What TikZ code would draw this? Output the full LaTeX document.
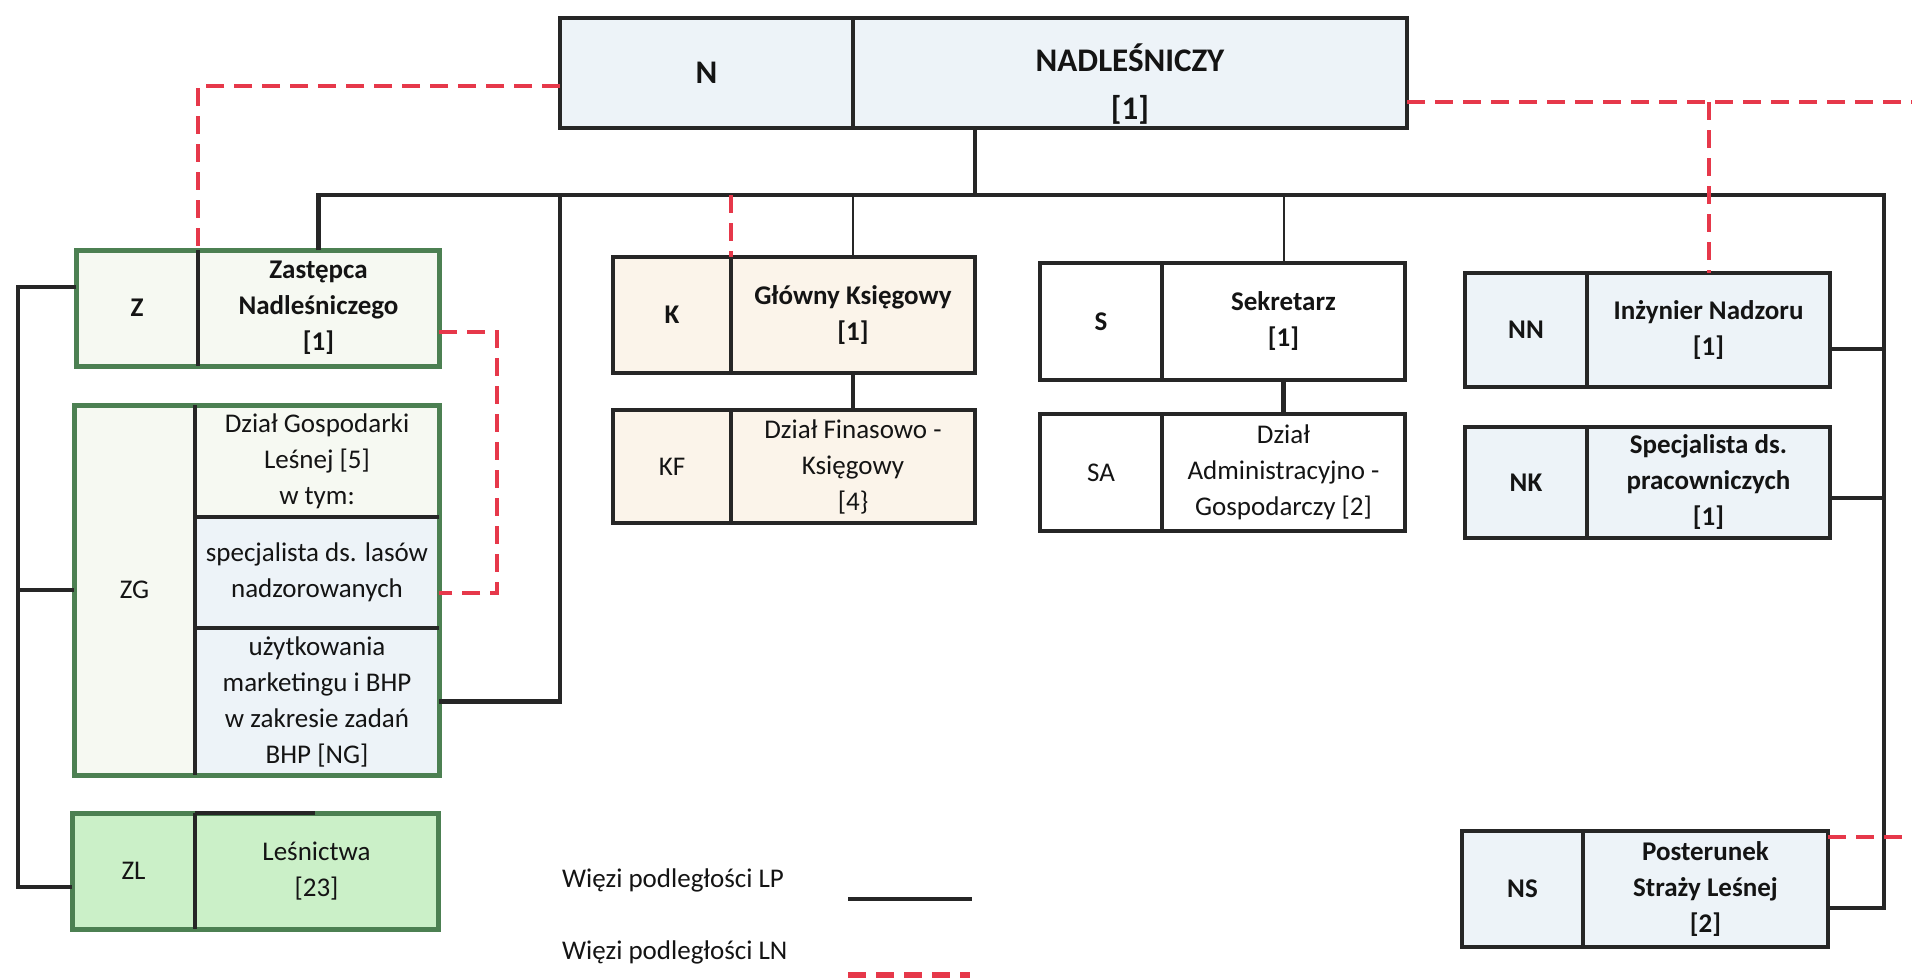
\documentclass[tikz,border=0pt]{standalone}
\usepackage{fontspec}
\setmainfont{Carlito}
\definecolor{ink}{RGB}{38,38,38}
\definecolor{txt}{RGB}{20,20,20}
\definecolor{blu}{RGB}{237,243,248}
\definecolor{bei}{RGB}{251,244,234}
\definecolor{zf}{RGB}{246,249,242}
\definecolor{zl}{RGB}{203,240,200}
\definecolor{grn}{RGB}{76,128,82}
\definecolor{rd}{RGB}{230,56,74}
\begin{document}
\begin{tikzpicture}[x=1pt,y=-1pt,
  cell/.style={inner sep=0pt, outer sep=0pt, anchor=north west, align=center, text=txt, font=\fontsize{27}{36}\selectfont},
  bcell/.style={cell, font=\fontsize{27}{36}\selectfont\bfseries},
  ncell/.style={cell, font=\fontsize{33}{48}\selectfont\bfseries},
  frame/.style={draw=ink, line width=4.5pt},
  gframe/.style={draw=grn, line width=5pt},
  div/.style={draw=ink, line width=4pt},
  lp/.style={draw=ink, line width=4.5pt},
  lpthin/.style={draw=ink, line width=2pt},
  ln/.style={draw=rd, line width=4pt, dash pattern=on 18pt off 10pt},
  legtext/.style={anchor=west, inner sep=0pt, text=txt, font=\fontsize{27}{36}\selectfont}
]
\useasboundingbox[fill=white] (0,0) rectangle (1912,978);

% ---------- N ----------
\node[ncell, fill=blu, minimum width=293pt, minimum height=110pt] (Na) at (560,18) {N};
\node[cell, fill=blu, minimum width=554pt, minimum height=110pt] (Nb) at (853,18) {};
\node[inner sep=0pt, align=center, text=txt, font=\fontsize{33}{48}\selectfont\bfseries] (Nt) at (1130,84) {NADLEŚNICZY\\{[1]}};
\draw[frame] (Na.north west) rectangle (Nb.south east);
\draw[div] (Na.north east) -- (Na.south east);

% ---------- Z ----------
\node[bcell, fill=zf, minimum width=122pt, minimum height=116pt] (Za) at (76,250) {Z};
\node[bcell, fill=zf, minimum width=241pt, minimum height=116pt] (Zb) at (198,250) {Zastępca\\Nadleśniczego\\{[1]}};
\draw[gframe] (Za.north west) rectangle (Zb.south east);
\draw[div] (Za.north east) -- (Za.south east);

% ---------- ZG ----------
\node[cell, fill=zf, minimum width=121pt, minimum height=370pt] (ZGa) at (74,405) {ZG};
\node[cell, fill=zf, minimum width=244pt, minimum height=112pt] (ZGb1) at (195,405) {Dział Gospodarki\\Leśnej {[5]}\\w tym:};
\node[cell, fill=blu, minimum width=244pt, minimum height=111pt] (ZGb) at (195,517) {specjalista ds. lasów\\nadzorowanych};
\node[cell, fill=blu, minimum width=244pt, minimum height=147pt] (ZGc) at (195,628) {użytkowania\\marketingu i BHP\\w zakresie zadań\\BHP {[NG]}};
\draw[gframe] (ZGa.north west) rectangle (ZGc.south east);
\draw[div] (ZGa.north east) -- (ZGa.south east);
\draw[div] (ZGb.north west) -- (ZGb.north east);
\draw[div] (ZGc.north west) -- (ZGc.north east);

% ---------- ZL ----------
\node[cell, fill=zl, minimum width=123pt, minimum height=116pt] (ZLa) at (72,813) {ZL};
\node[cell, fill=zl, minimum width=243pt, minimum height=116pt] (ZLb) at (195,813) {Leśnictwa\\{[23]}};
\draw[gframe] (ZLa.north west) rectangle (ZLb.south east);
\draw[div] (ZLa.north east) -- (ZLa.south east);
\coordinate (zlseg) at (315,813);
\draw[div] (ZLb.north west) -- (zlseg);

% ---------- K / KF ----------
\node[bcell, fill=bei, minimum width=118pt, minimum height=116pt] (Ka) at (613,257) {K};
\node[bcell, fill=bei, minimum width=244pt, minimum height=116pt] (Kb) at (731,257) {Główny Księgowy\\{[1]}};
\draw[frame] (Ka.north west) rectangle (Kb.south east);
\draw[div] (Ka.north east) -- (Ka.south east);
\node[cell, fill=bei, minimum width=118pt, minimum height=113pt] (KFa) at (613,410) {KF};
\node[cell, fill=bei, minimum width=244pt, minimum height=113pt] (KFb) at (731,410) {Dział Finasowo -\\Księgowy\\{[4\}}};
\draw[frame] (KFa.north west) rectangle (KFb.south east);
\draw[div] (KFa.north east) -- (KFa.south east);

% ---------- S / SA ----------
\node[bcell, fill=white, minimum width=122pt, minimum height=117pt] (Sa) at (1040,263) {S};
\node[bcell, fill=white, minimum width=243pt, minimum height=117pt] (Sb) at (1162,263) {Sekretarz\\{[1]}};
\draw[frame] (Sa.north west) rectangle (Sb.south east);
\draw[div] (Sa.north east) -- (Sa.south east);
\node[cell, fill=white, minimum width=122pt, minimum height=117pt] (SAa) at (1040,414) {SA};
\node[cell, fill=white, minimum width=243pt, minimum height=117pt] (SAb) at (1162,414) {Dział\\Administracyjno -\\Gospodarczy {[2]}};
\draw[frame] (SAa.north west) rectangle (SAb.south east);
\draw[div] (SAa.north east) -- (SAa.south east);

% ---------- NN / NK / NS ----------
\node[bcell, fill=blu, minimum width=122pt, minimum height=114pt] (NNa) at (1465,273) {NN};
\node[bcell, fill=blu, minimum width=243pt, minimum height=114pt] (NNb) at (1587,273) {Inżynier Nadzoru\\{[1]}};
\draw[frame] (NNa.north west) rectangle (NNb.south east);
\draw[div] (NNa.north east) -- (NNa.south east);
\node[bcell, fill=blu, minimum width=122pt, minimum height=111pt] (NKa) at (1465,427) {NK};
\node[bcell, fill=blu, minimum width=243pt, minimum height=111pt] (NKb) at (1587,427) {Specjalista ds.\\pracowniczych\\{[1]}};
\draw[frame] (NKa.north west) rectangle (NKb.south east);
\draw[div] (NKa.north east) -- (NKa.south east);
\node[bcell, fill=blu, minimum width=121pt, minimum height=116pt] (NSa) at (1462,831) {NS};
\node[bcell, fill=blu, minimum width=245pt, minimum height=116pt] (NSb) at (1583,831) {Posterunek\\Straży Leśnej\\{[2]}};
\draw[frame] (NSa.north west) rectangle (NSb.south east);
\draw[div] (NSa.north east) -- (NSa.south east);

% ---------- LP connectors ----------
\coordinate (jN) at (975,195);
\coordinate (jB) at (560,195);
\coordinate (jR) at (1884,195);
\coordinate (jNN) at (1884,349);
\coordinate (jNK) at (1884,498);
\coordinate (jNS) at (1884,908);
\coordinate (jL) at (18,287);
\coordinate (jL2) at (18,887);
\draw[lp] (jN |- Nb.south) -- (jN);
\draw[lp] (Zb.north) |- (jR) -- (jNS) -- (jNS -| NSb.east);
\draw[lp] (jNN) -- (jNN -| NNb.east);
\draw[lp] (jNK) -- (jNK -| NKb.east);
\draw[lp] (jB) |- (ZGc.east);
\draw[lpthin] (Kb.north) -- (Kb.north |- jN);
\draw[lpthin] (Sb.north) -- (Sb.north |- jN);
\draw[lp] (Kb.south) -- (KFb.north);
\draw[lp] (Sb.south) -- (SAb.north);
\draw[lp] (Za.west |- jL) -- (jL) -- (jL2) -- (jL2 -| ZLa.west);
\draw[lp] (ZGa.west) -- (ZGa.west -| jL);

% ---------- LN connectors ----------
\coordinate (r1) at (198,86);
\coordinate (r2) at (1912,102);
\coordinate (r3) at (497,332);
\coordinate (r3b) at (497,593);
\coordinate (r5) at (1912,837);
\draw[ln] (Na.west |- r1) -- (r1) -- (Za.north east);
\draw[ln] (Nb.east |- r2) -- (r2);
\draw[ln] (NNb.north |- r2) -- (NNb.north);
\draw[ln] (Zb.east |- r3) -- (r3) -- (r3b) -- (r3b -| ZGb.east);
\draw[ln] (Ka.north east |- jN) -- (Ka.north east);
\draw[ln] (NSb.east |- r5) -- (r5);

% ---------- legend ----------
\node[legtext] (lg1) at (562,880) {Więzi podległości LP};
\node[legtext] (lg2) at (562,952) {Więzi podległości LN};
\coordinate (lgA1) at (848,899);
\coordinate (lgA2) at (972,899);
\coordinate (lgB1) at (848,975);
\coordinate (lgB2) at (970,975);
\draw[lp] (lgA1) -- (lgA2);
\draw[ln, line width=6pt] (lgB1) -- (lgB2);
\end{tikzpicture}
\end{document}
